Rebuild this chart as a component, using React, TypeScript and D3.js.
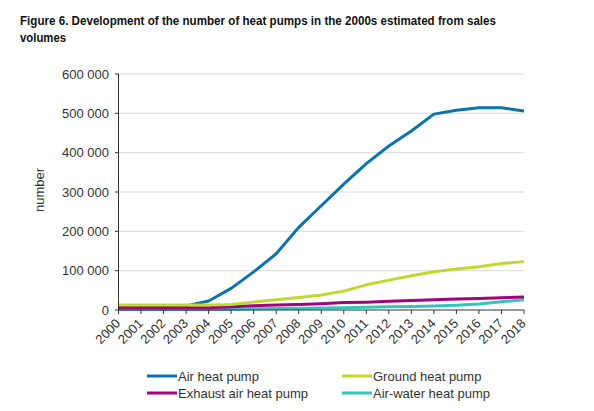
import React from "react";
import * as d3 from "d3";

const years = [2000,2001,2002,2003,2004,2005,2006,2007,2008,2009,2010,2011,2012,2013,2014,2015,2016,2017,2018];
const airHeatPump = [7000,7000,8000,10000,23000,55000,97000,143000,210000,265000,320000,372000,417000,455000,498000,508000,514000,514000,506000];
const groundHeatPump = [12500,12500,12500,12500,12500,14000,20000,26000,32000,38000,48000,64000,76000,87000,97000,104000,110000,118000,123000];
const exhaustAirHeatPump = [6000,6000,6000,6000,6000,8000,11000,13000,14000,16000,19000,20000,22000,24000,26000,28000,29000,31000,33000];
const airWaterHeatPump = [1000,1000,1000,1000,1000,2000,3000,3500,4000,5000,6000,7000,8000,9000,10000,12000,15000,21000,26000];
const yTicks = [0,100000,200000,300000,400000,500000,600000];

const series = [
  { name: "Air heat pump", values: airHeatPump, color: "#0a73ad" },
  { name: "Ground heat pump", values: groundHeatPump, color: "#c3d82e" },
  { name: "Exhaust air heat pump", values: exhaustAirHeatPump, color: "#a0047e" },
  { name: "Air-water heat pump", values: airWaterHeatPump, color: "#35c4bb" },
];
const drawOrder = [0, 3, 2, 1];

const fmt = (v: number) => (v === 0 ? "0" : d3.format(",")(v).replace(/,/g, " "));

export default function App() {
  const W = 594, H = 411;
  const x = d3.scaleLinear().domain([2000, 2018]).range([118.5, 524]);
  const y = d3.scaleLinear().domain([0, 600000]).range([310, 74]);
  const line = (vals: number[]) =>
    d3.line<number>().x((_, i) => x(years[i])).y((d) => y(d))(vals) || "";
  const font = "'Liberation Sans', Arial, sans-serif";
  const legendPos = [
    { lx: 147, ly: 376 },
    { lx: 342, ly: 376 },
    { lx: 147, ly: 393 },
    { lx: 342, ly: 393 },
  ];
  return (
    <svg width={W} height={H} style={{ position: "absolute", left: 0, top: 0, fontFamily: font }}>
      <rect width={W} height={H} fill="#fff" />
      <text x={20} y={25} fontSize={13} fontWeight="bold" fill="#111" textLength={476} lengthAdjust="spacingAndGlyphs">
        Figure 6. Development of the number of heat pumps in the 2000s estimated from sales
      </text>
      <text x={20} y={42} fontSize={13} fontWeight="bold" fill="#111" textLength={46} lengthAdjust="spacingAndGlyphs">
        volumes
      </text>
      {yTicks.map((t) => (
        <g key={t}>
          {t > 0 && <line x1={118.5} x2={524} y1={y(t)} y2={y(t)} stroke="#d9d9d9" strokeWidth={1} />}
          <line x1={115} x2={118.5} y1={y(t)} y2={y(t)} stroke="#333" strokeWidth={1} />
          <text x={109} y={y(t)} dy="0.35em" fontSize={13} textAnchor="end" fill="#333">
            {fmt(t)}
          </text>
        </g>
      ))}
      <text transform={`translate(44,190) rotate(-90)`} fontSize={13} textAnchor="middle" fill="#333">
        number
      </text>
      {drawOrder.map((si) => (
        <path key={si} d={line(series[si].values)} fill="none" stroke={series[si].color} strokeWidth={3} strokeLinejoin="round" />
      ))}
      <line x1={118.5} x2={118.5} y1={74} y2={310} stroke="#333" strokeWidth={1} />
      <line x1={118.5} x2={524} y1={310} y2={310} stroke="#333" strokeWidth={1} />
      {years.map((yr) => (
        <g key={yr}>
          <line x1={x(yr)} x2={x(yr)} y1={310} y2={314} stroke="#333" strokeWidth={1} />
          <text transform={`translate(${x(yr) - 0.5},${321}) rotate(-45)`} fontSize={13} textAnchor="end" dy="0.35em" fill="#333">
            {yr}
          </text>
        </g>
      ))}
      {series.map((s, i) => (
        <g key={s.name}>
          <line x1={legendPos[i].lx} x2={legendPos[i].lx + 30} y1={legendPos[i].ly} y2={legendPos[i].ly} stroke={s.color} strokeWidth={3} />
          <text x={legendPos[i].lx + 31} y={legendPos[i].ly} dy="0.35em" fontSize={13} fill="#333">
            {s.name}
          </text>
        </g>
      ))}
    </svg>
  );
}
